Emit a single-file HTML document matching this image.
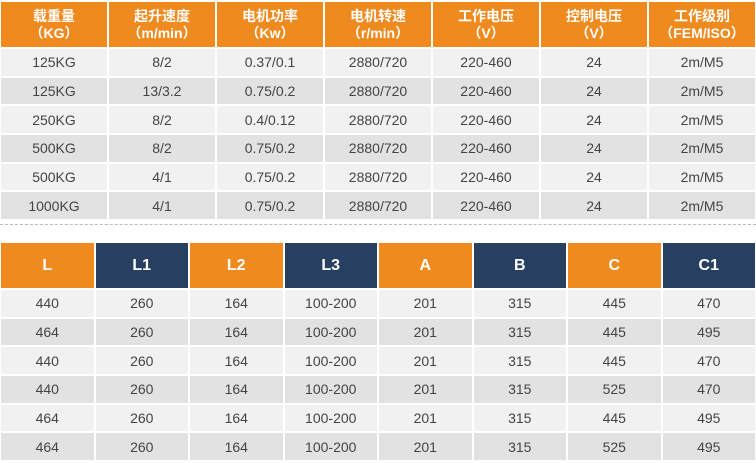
<!DOCTYPE html><html><head><meta charset="utf-8"><style>
body{margin:0;width:756px;height:463px;overflow:hidden;background:#fff;font-family:"Liberation Sans","Noto Sans CJK SC",sans-serif;}
table{position:absolute;left:0;width:758px;border-collapse:separate;border-spacing:2px;table-layout:fixed;margin-left:-1px}
td{text-align:center;color:#444;font-size:14px;padding:0;height:26.7px}
tr:nth-child(even) td{background:#f1f1f1}
tr:nth-child(odd) td{background:#e2e2e2}
tr.h td{height:45px;color:#fff;font-weight:bold;font-size:14px;line-height:17px;background:#ef8a1e}
#t2 tr.h td{font-size:16px}
tr.h td.n{background:#273f61}
#t1{top:0}#t2{top:241px}
.dash{position:absolute;top:224px;left:0;width:756px;border-top:1px dashed #bbb}
</style></head><body>
<table id="t1">
<tr class="h"><td>载重量<br>（KG）</td><td>起升速度<br>（m/min）</td><td>电机功率<br>（Kw）</td><td>电机转速<br>（r/min）</td><td>工作电压<br>（V）</td><td>控制电压<br>（V）</td><td>工作级别<br>（FEM/ISO）</td></tr>
<tr><td>125KG</td><td>8/2</td><td>0.37/0.1</td><td>2880/720</td><td>220-460</td><td>24</td><td>2m/M5</td></tr>
<tr><td>125KG</td><td>13/3.2</td><td>0.75/0.2</td><td>2880/720</td><td>220-460</td><td>24</td><td>2m/M5</td></tr>
<tr><td>250KG</td><td>8/2</td><td>0.4/0.12</td><td>2880/720</td><td>220-460</td><td>24</td><td>2m/M5</td></tr>
<tr><td>500KG</td><td>8/2</td><td>0.75/0.2</td><td>2880/720</td><td>220-460</td><td>24</td><td>2m/M5</td></tr>
<tr><td>500KG</td><td>4/1</td><td>0.75/0.2</td><td>2880/720</td><td>220-460</td><td>24</td><td>2m/M5</td></tr>
<tr><td>1000KG</td><td>4/1</td><td>0.75/0.2</td><td>2880/720</td><td>220-460</td><td>24</td><td>2m/M5</td></tr>
</table>
<div class="dash"></div>
<table id="t2">
<tr class="h"><td>L</td><td class="n">L1</td><td>L2</td><td class="n">L3</td><td>A</td><td class="n">B</td><td>C</td><td class="n">C1</td></tr>
<tr><td>440</td><td>260</td><td>164</td><td>100-200</td><td>201</td><td>315</td><td>445</td><td>470</td></tr>
<tr><td>464</td><td>260</td><td>164</td><td>100-200</td><td>201</td><td>315</td><td>445</td><td>495</td></tr>
<tr><td>440</td><td>260</td><td>164</td><td>100-200</td><td>201</td><td>315</td><td>445</td><td>470</td></tr>
<tr><td>440</td><td>260</td><td>164</td><td>100-200</td><td>201</td><td>315</td><td>525</td><td>470</td></tr>
<tr><td>464</td><td>260</td><td>164</td><td>100-200</td><td>201</td><td>315</td><td>445</td><td>495</td></tr>
<tr><td>464</td><td>260</td><td>164</td><td>100-200</td><td>201</td><td>315</td><td>525</td><td>495</td></tr>
</table>
</body></html>
